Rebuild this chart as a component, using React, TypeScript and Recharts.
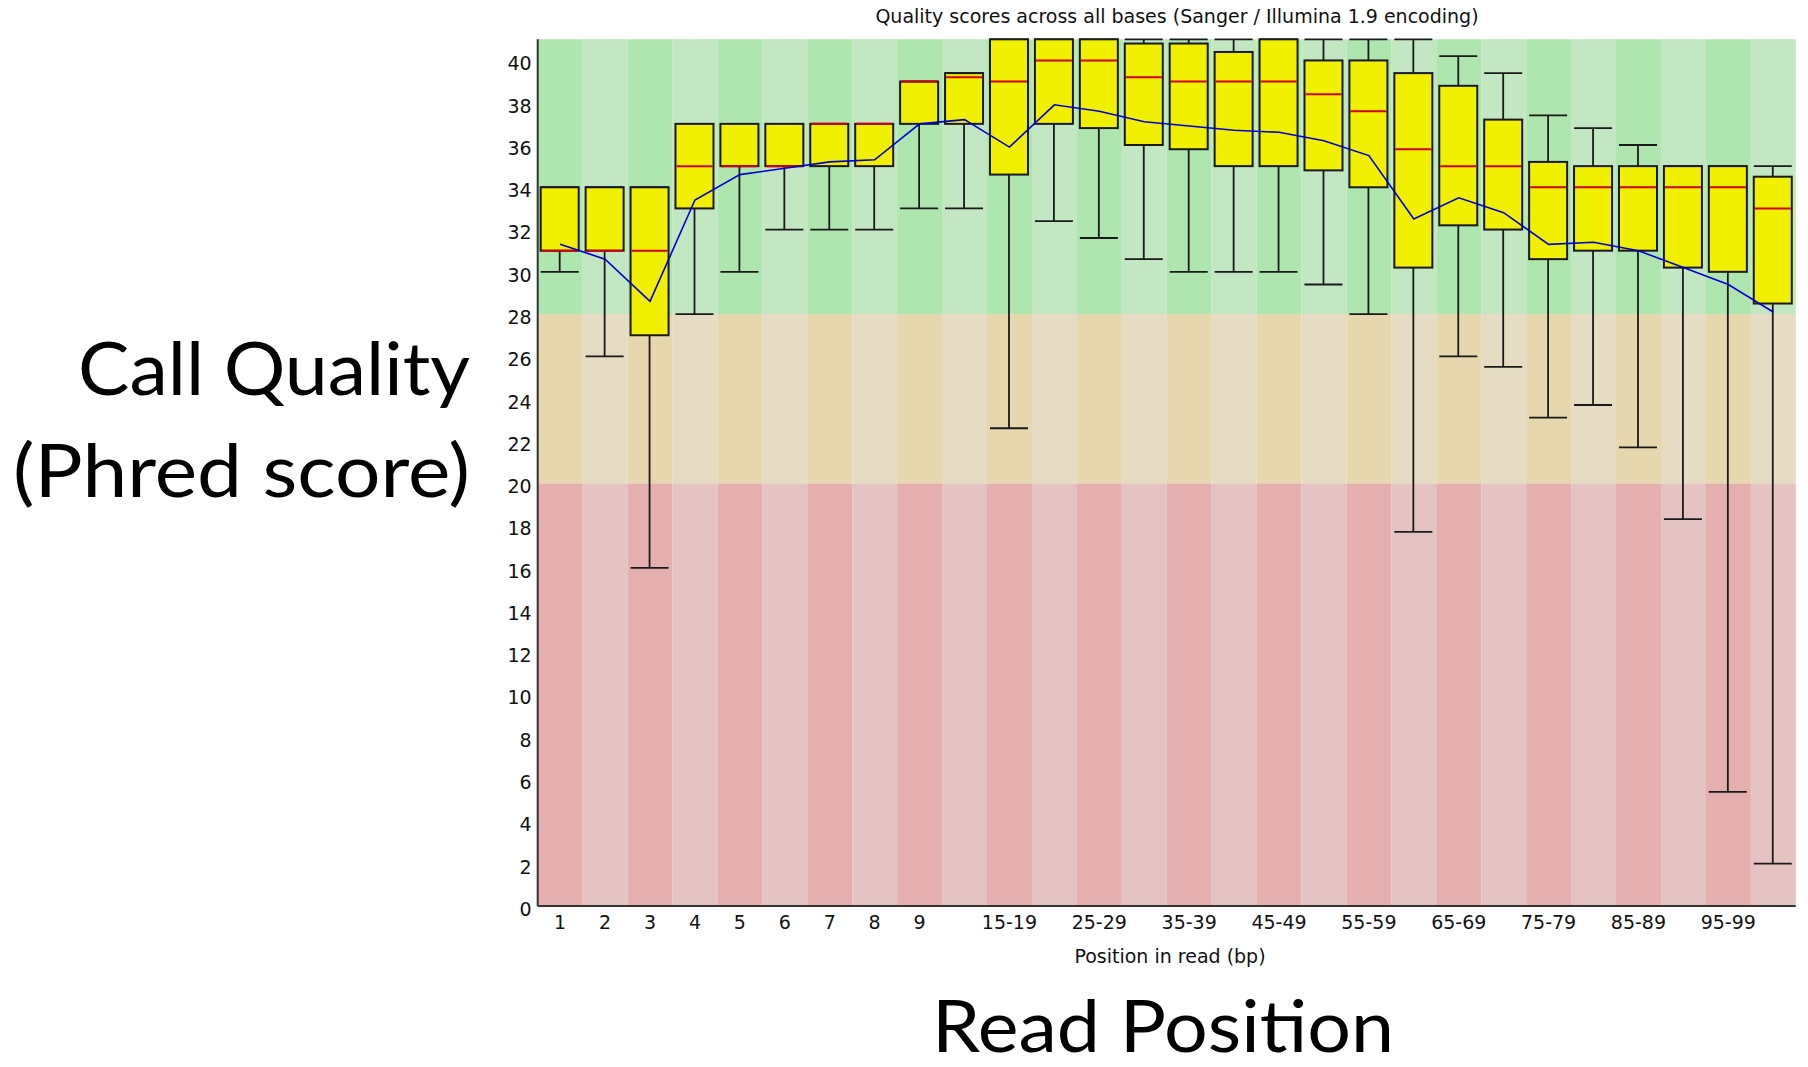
import React from 'react';
import { ComposedChart, Bar, Line, XAxis, YAxis, Cell } from 'recharts';

// ---- data (FastQC per-base quality) ----
const categories = [
  '1', '2', '3', '4', '5', '6', '7', '8', '9', '10-14', '15-19', '20-24', '25-29', '30-34',
  '35-39', '40-44', '45-49', '50-54', '55-59', '60-64', '65-69', '70-74', '75-79', '80-84',
  '85-89', '90-94', '95-99', '100-101',
];
const whiskerLow = [30, 26, 16, 28, 30, 32, 32, 32, 33, 33, 22.6, 32.4, 31.6, 30.6, 30, 30, 30, 29.4, 28, 17.7, 26, 25.5, 23.1, 23.7, 21.7, 18.3, 5.4, 2];
const quartileLow = [31, 31, 27, 33, 35, 35, 35, 35, 37, 37, 34.6, 37, 36.8, 36, 35.8, 35, 35, 34.8, 34, 30.2, 32.2, 32, 30.6, 31, 31, 30.2, 30, 28.5];
const medians = [31, 31, 31, 35, 35, 35, 37, 37, 39, 39.2, 39, 40, 40, 39.2, 39, 39, 39, 38.4, 37.6, 35.8, 35, 35, 34, 34, 34, 34, 34, 33];
const quartileHigh = [34, 34, 34, 37, 37, 37, 37, 37, 39, 39.4, 41, 41, 41, 40.8, 40.8, 40.4, 41, 40, 40, 39.4, 38.8, 37.2, 35.2, 35, 35, 35, 35, 34.5];
const whiskerHigh = [34, 34, 34, 37, 37, 37, 37, 37, 39, 39.4, 41, 41, 41, 41, 41, 41, 41, 41, 41, 41, 40.2, 39.4, 37.4, 36.8, 36, 35, 35, 35];
const means = [31.3, 30.6, 28.6, 33.4, 34.6, 34.9, 35.2, 35.3, 37.0, 37.2, 35.9, 37.9, 37.6, 37.1, 36.9, 36.7, 36.6, 36.2, 35.5, 32.5, 33.5, 32.8, 31.3, 31.4, 31.0, 30.2, 29.4, 28.1];

const shownXTicks = ['1', '2', '3', '4', '5', '6', '7', '8', '9', '15-19', '25-29', '35-39', '45-49', '55-59', '65-69', '75-79', '85-89', '95-99'];
const yTicks = [0, 2, 4, 6, 8, 10, 12, 14, 16, 18, 20, 22, 24, 26, 28, 30, 32, 34, 36, 38, 40];
const yDomain = [0, 41];
// quality zones: poor up to 20, reasonable up to 28, good up to 41
const zoneBounds = [20, 28, 41];

const titleText = 'Quality scores across all bases (Sanger / Illumina 1.9 encoding)';
const xAxisTitle = 'Position in read (bp)';
const bigYLabel = ['Call Quality', '(Phred score)'];
const bigXLabel = 'Read Position';

// ---- styles ----
const ZONE_DARK = ['rgb(230,175,175)', 'rgb(230,215,175)', 'rgb(175,230,175)'];
const ZONE_LIGHT = ['rgb(230,195,195)', 'rgb(230,220,195)', 'rgb(195,230,195)'];
const SMALL_FONT = "'DejaVu Sans', sans-serif";
const BIG_FONT = "Lato, 'Open Sans', sans-serif";

const data = categories.map((cat, i) => ({
  cat,
  low: whiskerLow[i],
  q1: quartileLow[i],
  med: medians[i],
  q3: quartileHigh[i],
  high: whiskerHigh[i],
  mean: means[i],
  range: [whiskerLow[i], whiskerHigh[i]],
  zPoor: zoneBounds[0],
  zOk: zoneBounds[1] - zoneBounds[0],
  zGood: zoneBounds[2] - zoneBounds[1],
}));

const BoxShape = (props: any) => {
  const { x, y, width, height, payload } = props;
  if (!payload || height == null) return null;
  const { low, high, q1, q3, med } = payload;
  const ppu = height / (high - low);
  const py = (v: number) => y + (high - v) * ppu;
  const cx = x + width / 2;
  const stroke = '#1a1a1a';
  return (
    <g>
      <line x1={cx} x2={cx} y1={py(high)} y2={py(q3)} stroke={stroke} strokeWidth={1.8} />
      <line x1={cx} x2={cx} y1={py(q1)} y2={py(low)} stroke={stroke} strokeWidth={1.8} />
      <line x1={x} x2={x + width} y1={py(high)} y2={py(high)} stroke={stroke} strokeWidth={1.8} />
      <line x1={x} x2={x + width} y1={py(low)} y2={py(low)} stroke={stroke} strokeWidth={1.8} />
      <rect x={x} y={py(q3)} width={width} height={py(q1) - py(q3)} fill="rgb(240,240,0)" stroke={stroke} strokeWidth={2} />
      <line x1={x + 1} x2={x + width - 1} y1={py(med)} y2={py(med)} stroke="rgb(210,0,0)" strokeWidth={2} />
    </g>
  );
};

const YTick = (props: any) => {
  const { x, y, payload } = props;
  return (
    <text x={x} y={y + 3} dy="0.36em" textAnchor="end" fontFamily={SMALL_FONT} fontSize={19} fill="#111">
      {payload.value}
    </text>
  );
};

const XTick = (props: any) => {
  const { x, y, payload } = props;
  if (!shownXTicks.includes(payload.value)) return null;
  return (
    <text x={x} y={y} dy="0.71em" textAnchor="middle" fontFamily={SMALL_FONT} fontSize={19} fill="#111">
      {payload.value}
    </text>
  );
};

export default function App() {
  return (
    <div style={{ position: 'absolute', left: 0, top: 0, width: 1808, height: 1067, background: '#fff' }}>
      <ComposedChart
        width={1808}
        height={1067}
        data={data}
        margin={{ top: 39.3, right: 12.3, bottom: 131, left: 477.7 }}
        barCategoryGap={0}
        barGap={0}
      >
        <XAxis
          dataKey="cat"
          type="category"
          interval={0}
          tickLine={false}
          tickSize={0}
          tickMargin={10}
          height={30}
          axisLine={{ stroke: '#333', strokeWidth: 2 }}
          tick={<XTick />}
        />
        <XAxis xAxisId="box" dataKey="cat" type="category" hide />
        <YAxis
          type="number"
          domain={yDomain}
          ticks={yTicks}
          interval={0}
          width={60}
          tickLine={false}
          tickSize={0}
          tickMargin={6}
          axisLine={{ stroke: '#333', strokeWidth: 2 }}
          tick={<YTick />}
        />
        <Bar dataKey="zPoor" stackId="zone" isAnimationActive={false}>
          {data.map((_, i) => (
            <Cell key={i} fill={i % 2 === 0 ? ZONE_DARK[0] : ZONE_LIGHT[0]} />
          ))}
        </Bar>
        <Bar dataKey="zOk" stackId="zone" isAnimationActive={false}>
          {data.map((_, i) => (
            <Cell key={i} fill={i % 2 === 0 ? ZONE_DARK[1] : ZONE_LIGHT[1]} />
          ))}
        </Bar>
        <Bar dataKey="zGood" stackId="zone" isAnimationActive={false}>
          {data.map((_, i) => (
            <Cell key={i} fill={i % 2 === 0 ? ZONE_DARK[2] : ZONE_LIGHT[2]} />
          ))}
        </Bar>
        <Bar dataKey="range" xAxisId="box" barSize={38} isAnimationActive={false} shape={<BoxShape />} />
        <Line
          dataKey="mean"
          xAxisId="box"
          type="linear"
          stroke="rgb(0,0,210)"
          strokeWidth={1.6}
          dot={false}
          activeDot={false}
          isAnimationActive={false}
        />
      </ComposedChart>
      <svg width={1808} height={1067} style={{ position: 'absolute', left: 0, top: 0, pointerEvents: 'none' }}>
        <text x={1177} y={23} textAnchor="middle" fontFamily={SMALL_FONT} fontSize={19} fill="#111">
          {titleText}
        </text>
        <text x={1170} y={963} textAnchor="middle" fontFamily={SMALL_FONT} fontSize={19} fill="#111">
          {xAxisTitle}
        </text>
        <text x={470} y={395} textAnchor="end" fontFamily={BIG_FONT} fontSize={74} fill="#000" textLength={392} lengthAdjust="spacingAndGlyphs">
          {bigYLabel[0]}
        </text>
        <text x={470} y={497} textAnchor="end" fontFamily={BIG_FONT} fontSize={74} fill="#000" textLength={457} lengthAdjust="spacingAndGlyphs">
          {bigYLabel[1]}
        </text>
        <text x={1163} y={1052} textAnchor="middle" fontFamily={BIG_FONT} fontSize={72} fill="#000" textLength={462} lengthAdjust="spacingAndGlyphs">
          {bigXLabel}
        </text>
      </svg>
    </div>
  );
}
